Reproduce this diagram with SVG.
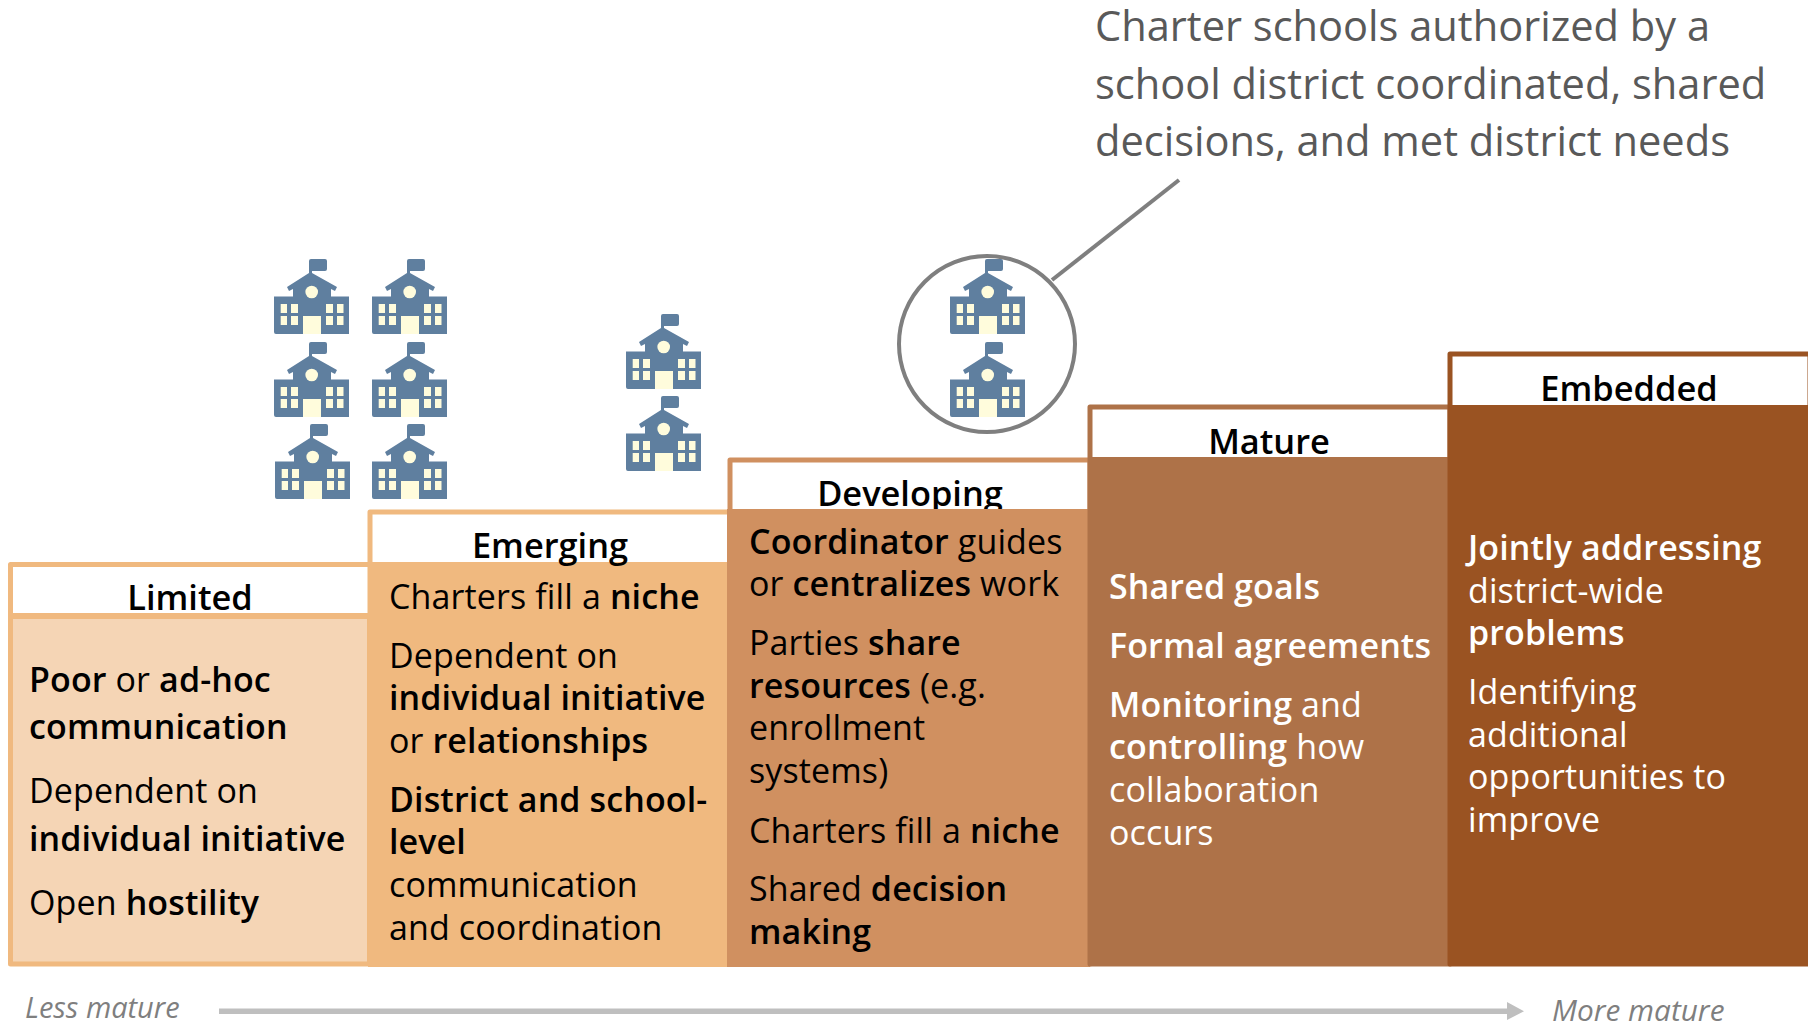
<svg xmlns="http://www.w3.org/2000/svg" xmlns:xlink="http://www.w3.org/1999/xlink" width="1808" height="1029" viewBox="0 0 1808 1029">
<style>
text{font-family:"Open Sans","Noto Sans","Liberation Sans",sans-serif;font-size:34px;letter-spacing:.12px;fill:#000}
.b{font-weight:600}
.h{font-weight:600;font-size:34.4px;letter-spacing:0;text-anchor:middle}
.w,.w tspan{fill:#fff}
.c{font-size:41.6px;letter-spacing:0;fill:#595959}
.m{font-style:italic;font-size:29px;letter-spacing:0;fill:#7f7f7f}
.body{fill:#5f7f9f}.win{fill:#fffcdc}
.frame{stroke-width:5;stroke-linejoin:round}
</style>
<defs>
<g id="school">
<path class="body" d="M35 2Q35 0 37 0H51Q53 0 53 2V10Q53 12 51 12H38V14L63 28L61 32L57 30V37.5H75V75H31V75H2Q0 75 0 73V37.5H19V30L15 32L13 28L35 14Z"/>
<path class="body" d="M20 37h36v38H20z"/>
<circle class="win" cx="37.7" cy="33" r="6.3"/>
<path class="win" d="M6.7 45h6.3v9h-6.3zM17 45h7v9h-7zM52 45h7v9h-7zM63 45h6.5v9H63zM6.7 57h6.3v9h-6.3zM17 57h7v9h-7zM52 57h7v9h-7zM63 57h6.5v9H63zM29 57h18v18H29z"/>
</g>
</defs>
<g id="node-limited">
<rect class="frame" x="10.500" y="564.500" width="359" height="399.500" fill="#f5d5b5" stroke="#f0b97f"/>
<rect x="13" y="567" width="355" height="46" fill="#fff"/>
<rect x="13" y="613" width="355" height="6" fill="#f0b97f"/>
<text class="h" x="190" y="610">Limited</text>
<text x="29" y="692"><tspan class="b">Poor</tspan> or <tspan class="b">ad-hoc</tspan></text>
<text x="29" y="739" class="b">communication</text>
<text x="29" y="803">Dependent on</text>
<text x="29" y="851" class="b">individual initiative</text>
<text x="29" y="915">Open <tspan class="b">hostility</tspan></text>
</g>
<g id="node-emerging">
<rect class="frame" x="370" y="512" width="360" height="452" fill="#fff" stroke="#f0b97f"/>
<rect x="368" y="562" width="362" height="405" fill="#f0b97f"/>
<text class="h" x="550" y="558">Emerging</text>
<text x="389" y="609">Charters fill a <tspan class="b">niche</tspan></text>
<text x="389" y="668">Dependent on</text>
<text x="389" y="710" class="b">individual initiative</text>
<text x="389" y="753">or <tspan class="b">relationships</tspan></text>
<text x="389" y="812" class="b">District and school-</text>
<text x="389" y="854" class="b">level</text>
<text x="389" y="897">communication</text>
<text x="389" y="940">and coordination</text>
</g>
<g id="node-developing">
<rect class="frame" x="730" y="460" width="360" height="504" fill="#fff" stroke="#d09060"/>
<text class="h" x="910" y="506">Developing</text>
<rect x="727" y="509" width="363" height="458" fill="#d09060"/>
<text x="749" y="554"><tspan class="b">Coordinator</tspan> guides</text>
<text x="749" y="596">or <tspan class="b">centralizes</tspan> work</text>
<text x="749" y="655">Parties <tspan class="b">share</tspan></text>
<text x="749" y="698"><tspan class="b">resources</tspan> (e.g.</text>
<text x="749" y="740">enrollment</text>
<text x="749" y="783">systems)</text>
<text x="749" y="843">Charters fill a <tspan class="b">niche</tspan></text>
<text x="749" y="901">Shared <tspan class="b">decision</tspan></text>
<text x="749" y="944" class="b">making</text>
</g>
<g id="node-mature">
<rect class="frame" x="1090" y="407" width="360" height="557" fill="#fff" stroke="#ae7248"/>
<text class="h" x="1269" y="454">Mature</text>
<rect x="1088" y="457" width="360" height="509" fill="#ae7248"/>
<text x="1109" y="599" class="b w">Shared goals</text>
<text x="1109" y="658" class="b w">Formal agreements</text>
<text x="1109" y="717" class="w"><tspan class="b">Monitoring</tspan> and</text>
<text x="1109" y="759" class="w"><tspan class="b">controlling</tspan> how</text>
<text x="1109" y="802" class="w">collaboration</text>
<text x="1109" y="845" class="w">occurs</text>
</g>
<g id="node-embedded">
<rect class="frame" x="1450" y="354" width="360" height="610" fill="#fff" stroke="#9a5322"/>
<text class="h" x="1629" y="401">Embedded</text>
<rect x="1448" y="405" width="360" height="561" fill="#9a5322"/>
<text x="1468" y="560" class="b w">Jointly addressing</text>
<text x="1468" y="603" class="w">district-wide</text>
<text x="1468" y="645" class="b w">problems</text>
<text x="1468" y="704" class="w">Identifying</text>
<text x="1468" y="747" class="w">additional</text>
<text x="1468" y="789" class="w">opportunities to</text>
<text x="1468" y="832" class="w">improve</text>
</g>
<g id="node-schools-limited">
<use xlink:href="#school" x="274" y="259"/><use xlink:href="#school" x="372" y="259"/>
<use xlink:href="#school" x="274" y="342"/><use xlink:href="#school" x="372" y="342"/>
<use xlink:href="#school" x="275" y="424"/><use xlink:href="#school" x="372" y="424"/>
</g>
<g id="node-schools-emerging">
<use xlink:href="#school" x="626" y="314"/><use xlink:href="#school" x="626" y="396"/>
</g>
<g id="node-schools-developing">
<circle cx="987" cy="344" r="88" fill="none" stroke="#7f7f7f" stroke-width="4"/>
<use xlink:href="#school" x="950" y="259"/><use xlink:href="#school" x="950" y="342"/>
</g>
<g id="node-callout">
<text class="c" x="1095" y="41">Charter schools authorized by a</text>
<text class="c" x="1095" y="99">school district coordinated, shared</text>
<text class="c" x="1095" y="156">decisions, and met district needs</text>
</g>
<g id="node-scale">
<text class="m" x="25" y="1018">Less mature</text>
<text class="m" style="font-size:29.8px" x="1552" y="1021">More mature</text>
</g>
<g id="connectors">
<line x1="1052" y1="280" x2="1179" y2="180" stroke="#7f7f7f" stroke-width="4"/>
<path d="M219 1008.500H1507V1002L1524 1011.300L1507 1020V1014H219Z" fill="#bfbfbf"/>
</g>
</svg>
